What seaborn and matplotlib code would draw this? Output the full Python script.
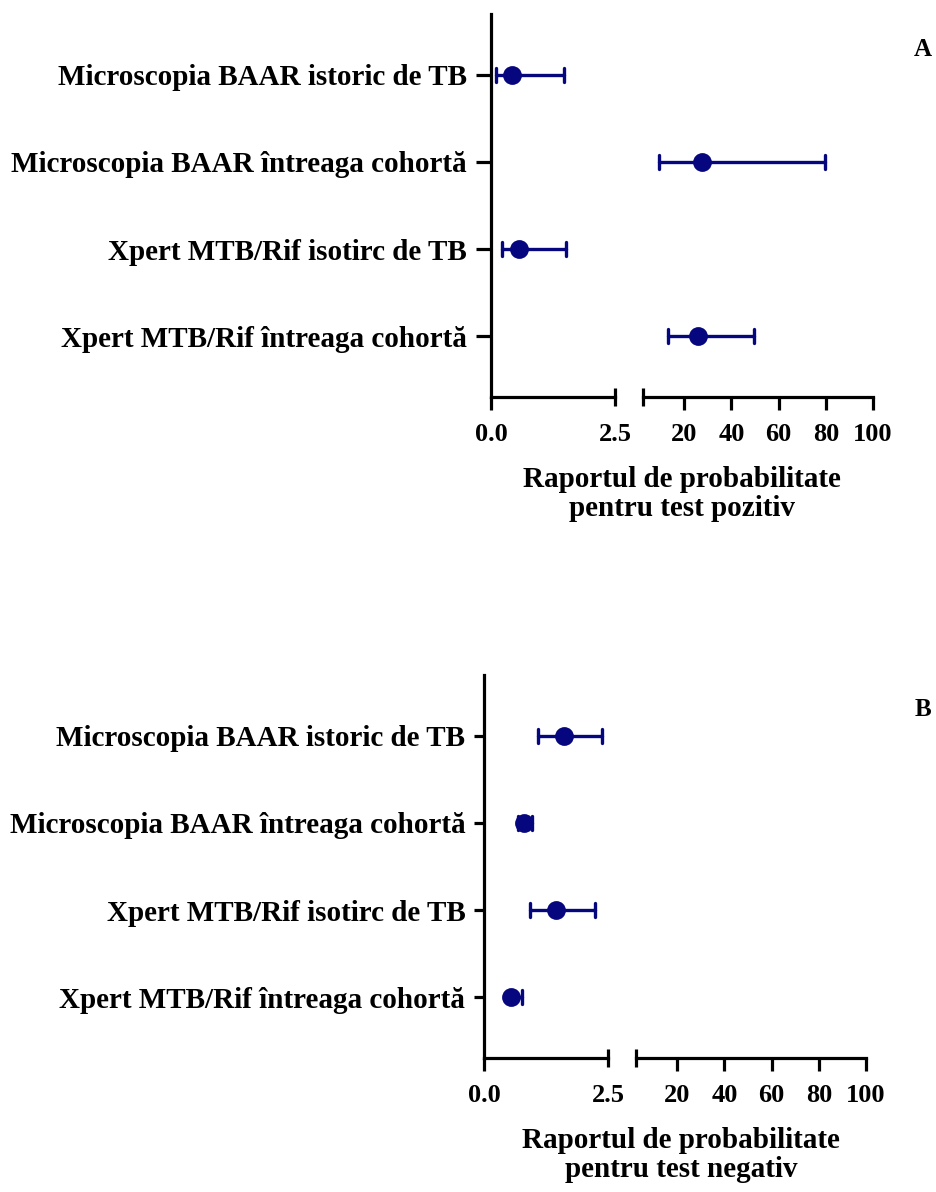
import numpy as np
import pandas as pd
import matplotlib
matplotlib.use("Agg")
import matplotlib.pyplot as plt
import seaborn as sns

sns.set_style("white")
plt.rcParams['font.family'] = ['Liberation Serif', 'DejaVu Serif']
plt.rcParams['font.weight'] = 'bold'
plt.rcParams['text.color'] = 'black'
plt.rcParams['xtick.color'] = 'black'
plt.rcParams['ytick.color'] = 'black'
plt.rcParams['xtick.labelcolor'] = 'black'
plt.rcParams['ytick.labelcolor'] = 'black'

categories = ["Microscopia BAAR istoric de TB",
              "Microscopia BAAR întreaga cohortă",
              "Xpert MTB/Rif isotirc de TB",
              "Xpert MTB/Rif întreaga cohortă"]

# Panel A: positive likelihood ratio (estimate, lower, upper)
lrp_est = [0.42, 27.5, 0.57, 25.9]
lrp_low = [0.10, 9.4, 0.22, 13.1]
lrp_high = [1.48, 79.6, 1.52, 49.4]

# Panel B: negative likelihood ratio
lrn_est = [1.62, 0.80, 1.45, 0.55]
lrn_low = [1.08, 0.68, 0.93, 0.50]
lrn_high = [2.38, 0.96, 2.23, 0.76]

left_ticks = [0.0, 2.5]
left_labels = ["0.0", "2.5"]
right_ticks = [20, 40, 60, 80, 100]
right_labels = ["20", "40", "60", "80", "100"]
BREAK = 2.5

panel_labels = ["A", "B"]
xlabels = ["Raportul de probabilitate\npentru test pozitiv",
           "Raportul de probabilitate\npentru test negativ"]

NAVY = "#06067e"
W, H = 936, 1192
fig = plt.figure(figsize=(W / 100, H / 100), dpi=100)


def long_df(est, low, high):
    rows = []
    for c, e, l, h in zip(categories, est, low, high):
        grp = "low" if e < BREAK else "high"
        for v in (l, e, h):
            rows.append({"test": c, "value": v, "grp": grp})
    return pd.DataFrame(rows)


def px_ax(x0, x1, ytop, ybot):
    return fig.add_axes([x0 / W, 1 - ybot / H, (x1 - x0) / W, (ybot - ytop) / H])


layouts = [
    dict(lx=(491, 615), rx=(643, 873), y=(14, 397), lab=(923, 50), xl=(682, 494),
         ytl=11, ypad=6.5),
    dict(lx=(484, 608), rx=(636, 866), y=(675, 1058), lab=(923, 710), xl=(681, 1155),
         ytl=7, ypad=6.5),
]
datasets = [(lrp_est, lrp_low, lrp_high), (lrn_est, lrn_low, lrn_high)]

for i, (lay, ds) in enumerate(zip(layouts, datasets)):
    df = long_df(*ds)
    axL = px_ax(lay["lx"][0], lay["lx"][1], *lay["y"])
    axR = px_ax(lay["rx"][0], lay["rx"][1], *lay["y"])
    for ax, grp in ((axL, "low"), (axR, "high")):
        sub = df[df["grp"] == grp]
        if len(sub):
            sns.pointplot(data=sub, x="value", y="test", order=categories,
                          estimator="median", errorbar=("pi", 100),
                          linestyle="none", color=NAVY, markersize=11.5,
                          capsize=0.16, err_kws={"linewidth": 2.4},
                          orient="h", ax=ax)
        else:
            sns.pointplot(data=df.iloc[:0], x="value", y="test", order=categories,
                          orient="h", ax=ax)
        ax.set_ylim(3.7, -0.7)
        ax.set_xlabel("")
        ax.set_ylabel("")
        ax.set_facecolor("none")
        for s in ("top", "right"):
            ax.spines[s].set_visible(False)
        for s in ("bottom", "left"):
            ax.spines[s].set_linewidth(2.3)
            ax.spines[s].set_color("black")

    # left segment
    axL.set_xlim(0, BREAK)
    axL.set_xticks([left_ticks[0]], labels=[left_labels[0]])
    axL.set_xticks([left_ticks[1]], labels=[left_labels[1]], minor=True)
    axL.set_yticks(range(len(categories)), labels=categories)
    axL.tick_params(axis="y", which="major", direction="out", length=lay["ytl"], width=2.3,
                    pad=lay["ypad"], labelsize=21, color="black", left=True)
    axL.tick_params(axis="x", which="major", direction="out", length=9.4, width=2.3,
                    pad=9.5, labelsize=19, color="black", bottom=True)
    axL.tick_params(axis="x", which="minor", direction="inout", length=13, width=2.3,
                    pad=12.5, labelsize=19, color="black", bottom=True)

    # right segment
    axR.set_xlim(BREAK, 100)
    axR.set_xticks(right_ticks, labels=right_labels)
    axR.set_xticks([BREAK], labels=[""], minor=True)
    axR.spines["left"].set_visible(False)
    axR.set_yticks([])
    axR.tick_params(axis="x", which="major", direction="out", length=9.4, width=2.3,
                    pad=9.5, labelsize=19, color="black", bottom=True)
    axR.tick_params(axis="x", which="minor", direction="inout", length=13, width=2.3,
                    color="black", bottom=True)
    for t in axL.get_xticklabels(which="both") + axR.get_xticklabels() + axL.get_yticklabels():
        t.set_fontweight("bold")
        t.set_color("black")

    fig.text(lay["xl"][0] / W, 1 - lay["xl"][1] / H, xlabels[i], ha="center", va="center",
             fontsize=21, fontweight="bold", linespacing=1.1, color="black")
    fig.text(lay["lab"][0] / W, 1 - lay["lab"][1] / H, panel_labels[i],
             ha="center", va="center", fontsize=18, fontweight="bold", color="black")

fig.savefig("out.png", dpi=100)
